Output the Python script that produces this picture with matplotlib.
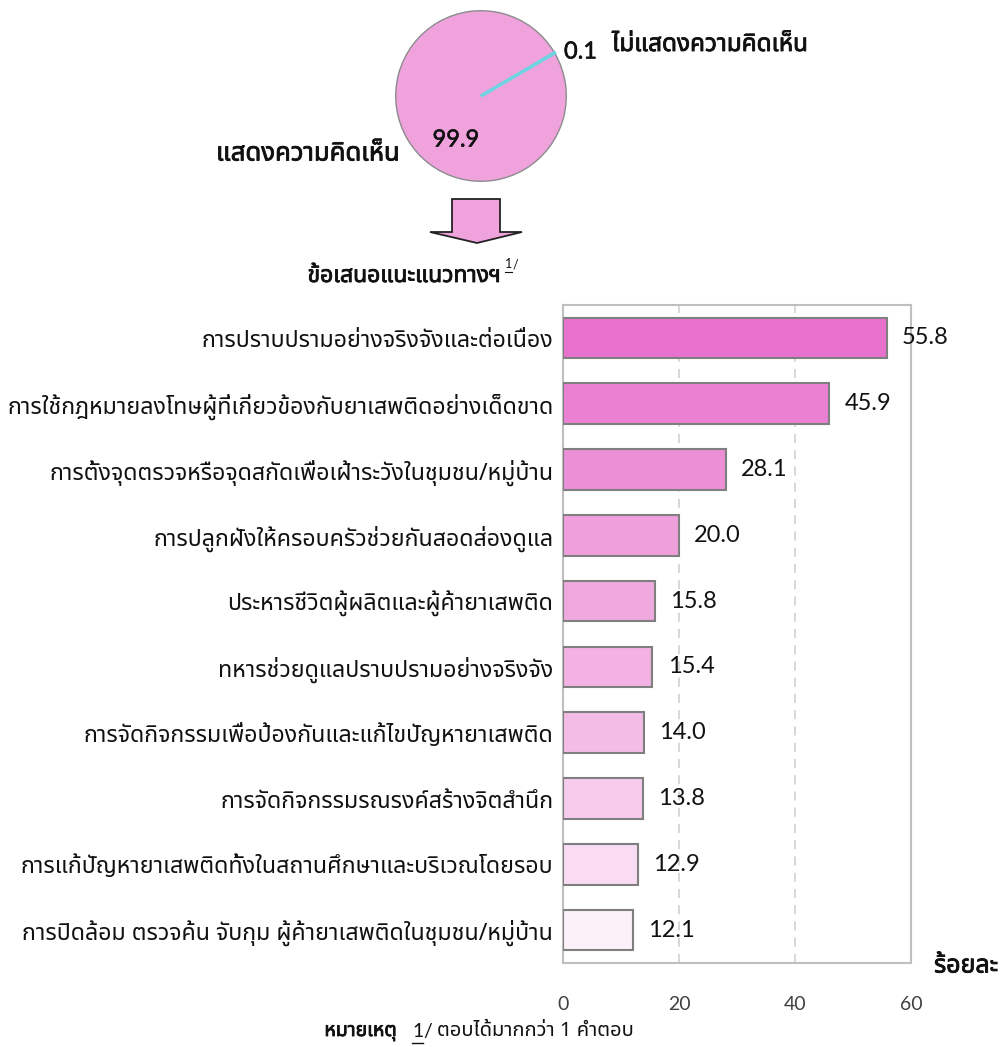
import matplotlib
matplotlib.use("Agg")
import matplotlib.pyplot as plt
from matplotlib import font_manager
from matplotlib.ft2font import FT2Font
from matplotlib.patches import Polygon
from matplotlib.lines import Line2D
import matplotlib.patheffects as pe

# ---------------- data ----------------
pie_labels = ["แสดงความคิดเห็น", "ไม่แสดงความคิดเห็น"]
pie_values = [99.9, 0.1]
pie_colors = ["#f0a2dc", "#6fd3e2"]

categories = [
    "การปราบปรามอย่างจริงจังและต่อเนื่อง",
    "การใช้กฎหมายลงโทษผู้ที่เกี่ยวข้องกับยาเสพติดอย่างเด็ดขาด",
    "การตั้งจุดตรวจหรือจุดสกัดเพื่อเฝ้าระวังในชุมชน/หมู่บ้าน",
    "การปลูกฝังให้ครอบครัวช่วยกันสอดส่องดูแล",
    "ประหารชีวิตผู้ผลิตและผู้ค้ายาเสพติด",
    "ทหารช่วยดูแลปราบปรามอย่างจริงจัง",
    "การจัดกิจกรรมเพื่อป้องกันและแก้ไขปัญหายาเสพติด",
    "การจัดกิจกรรมรณรงค์สร้างจิตสำนึก",
    "การแก้ปัญหายาเสพติดทั้งในสถานศึกษาและบริเวณโดยรอบ",
    "การปิดล้อม ตรวจค้น จับกุม ผู้ค้ายาเสพติดในชุมชน/หมู่บ้าน",
]
values = [55.8, 45.9, 28.1, 20.0, 15.8, 15.4, 14.0, 13.8, 12.9, 12.1]
bar_colors = ["#e871cd", "#ea80d2", "#ec8fd7", "#ef9fdc", "#f0a9df",
              "#f2b3e3", "#f3bce6", "#f6cbec", "#f9dcf2", "#fcf0f9"]
x_ticks = [0, 20, 40, 60]

title_text = "ข้อเสนอแนะแนวทางฯ"
unit_text = "ร้อยละ"
note_head = "หมายเหตุ"
note_body = "ตอบได้มากกว่า 1 คำตอบ"


# ---------------- fonts ----------------
def find_thai_font():
    preferred = ["Noto Sans Thai", "Noto Sans Thai UI", "Leelawadee UI", "Tahoma",
                 "Loma", "Garuda", "Umpush", "Waree", "Sawasdee", "Kinnari",
                 "Norasi", "Laksaman", "TH Sarabun New"]
    found = {}
    for f in font_manager.fontManager.ttflist:
        try:
            cmap = FT2Font(f.fname).get_charmap()
        except Exception:
            continue
        if 0x0E01 in cmap and 0x0E49 in cmap:
            found.setdefault(f.name, f.fname)
    for name in preferred:
        if name in found:
            return name
    return next(iter(found), None)


thai_font = find_thai_font()
latin_font = "Lato"
families = [thai_font, "DejaVu Sans"] if thai_font else ["DejaVu Sans"]
num_families = [latin_font, "DejaVu Sans"]
plt.rcParams["font.family"] = families

INK = "#111111"
# heavier strokes for the headline-style labels
BOLD = [pe.withStroke(linewidth=0.6, foreground=INK)]

W, H = 1007, 1047
fig = plt.figure(figsize=(W / 100, H / 100), dpi=100)
renderer = fig.canvas.get_renderer()


def fx(x):
    return x / W


def fy(y):
    return 1 - y / H


def underlined_ref(x, y, size):
    """Draw '1/' with the digit underlined; returns right edge in pixels."""
    one = fig.text(fx(x), fy(y), "1", ha="left", va="baseline",
                   fontsize=size, family=num_families, color=INK)
    bb = one.get_window_extent(renderer)
    fig.add_artist(Line2D([bb.x0 / W, bb.x1 / W],
                          [(bb.y0 - size * 0.18) / H] * 2,
                          transform=fig.transFigure, color=INK,
                          linewidth=max(0.8, size / 14)))
    sl = fig.text(bb.x1 / W, fy(y), "/", ha="left", va="baseline",
                  fontsize=size, family=num_families, color=INK)
    return sl.get_window_extent(renderer).x1


# ---------------- pie ----------------
cx, cy, r = 481, 96, 87
pax = fig.add_axes([fx(cx - r), fy(cy + r), 2 * r / W, 2 * r / H])
wedges, _ = pax.pie(pie_values, colors=pie_colors, startangle=30.2,
                    counterclock=False, radius=1,
                    wedgeprops=dict(edgecolor="#8c8c8c", linewidth=1.0))
wedges[1].set_edgecolor("#6fd3e2")
wedges[1].set_linewidth(2.2)
pax.set_xlim(-1.02, 1.02)
pax.set_ylim(-1.02, 1.02)
pax.set_aspect("equal")
pax.axis("off")

fig.text(fx(456), fy(140), f"{pie_values[0]:.1f}", ha="center", va="center",
         fontsize=17, family=num_families, color=INK,
         path_effects=[pe.withStroke(linewidth=0.4, foreground=INK)])
fig.text(fx(400), fy(154), pie_labels[0], ha="right", va="center",
         fontsize=18.5, color=INK, path_effects=BOLD)
fig.text(fx(564), fy(52), f"{pie_values[1]:.1f}", ha="left", va="center",
         fontsize=17, family=num_families, color=INK,
         path_effects=[pe.withStroke(linewidth=0.4, foreground=INK)])
fig.text(fx(612), fy(45), pie_labels[1], ha="left", va="center",
         fontsize=17.5, color=INK, path_effects=BOLD)

# ---------------- block arrow ----------------
arrow_pts = [(452, 199), (500, 199), (500, 232), (522, 232), (477, 243),
             (430, 232), (452, 232)]
fig.patches.append(Polygon([(fx(x), fy(y)) for x, y in arrow_pts], closed=True,
                           transform=fig.transFigure, facecolor="#f0a2dc",
                           edgecolor="#222222", linewidth=1.3))

# ---------------- title ----------------
fig.text(fx(404), fy(276), title_text, ha="center", va="center",
         fontsize=16.5, color=INK, path_effects=BOLD)
underlined_ref(505, 268, 9)

# ---------------- bar chart ----------------
ax = fig.add_axes([fx(563), fy(963), (911 - 563) / W, (963 - 305) / H])
ypos = list(range(len(categories)))
bars = ax.barh(ypos, values, height=0.62, color=bar_colors,
               edgecolor="#7f7f7f", linewidth=1.5, zorder=3)
ax.set_xlim(0, 60)
ax.set_ylim(len(categories) - 0.5, -0.5)
ax.set_xticks(x_ticks)
ax.set_xticklabels([str(t) for t in x_ticks], family=num_families,
                   fontsize=14, color="#404040")
ax.set_yticks(ypos)
ax.set_yticklabels(categories, fontsize=16.7, color=INK)
ax.tick_params(axis="both", length=0)
ax.tick_params(axis="x", pad=24)
ax.tick_params(axis="y", pad=7)
ax.grid(axis="x", linestyle=(0, (5, 4)), color="#d4d4d4", linewidth=1.3, zorder=0)
for s in ax.spines.values():
    s.set_color("#bfbfbf")
    s.set_linewidth(1.5)

ax.bar_label(bars, labels=[f"{v:.1f}" for v in values], padding=11,
             fontsize=17, family=num_families, color=INK)

fig.text(fx(934), fy(966), unit_text, ha="left", va="center",
         fontsize=18, color=INK, path_effects=BOLD)

# ---------------- footnote ----------------
fig.text(fx(397), fy(1031), note_head, ha="right", va="center",
         fontsize=14, color=INK, path_effects=BOLD)
right = underlined_ref(412, 1037, 14)
fig.text((right + 5) / W, fy(1031), note_body, ha="left",
         va="center", fontsize=14.5, color=INK)

fig.savefig("out.png", dpi=100)
